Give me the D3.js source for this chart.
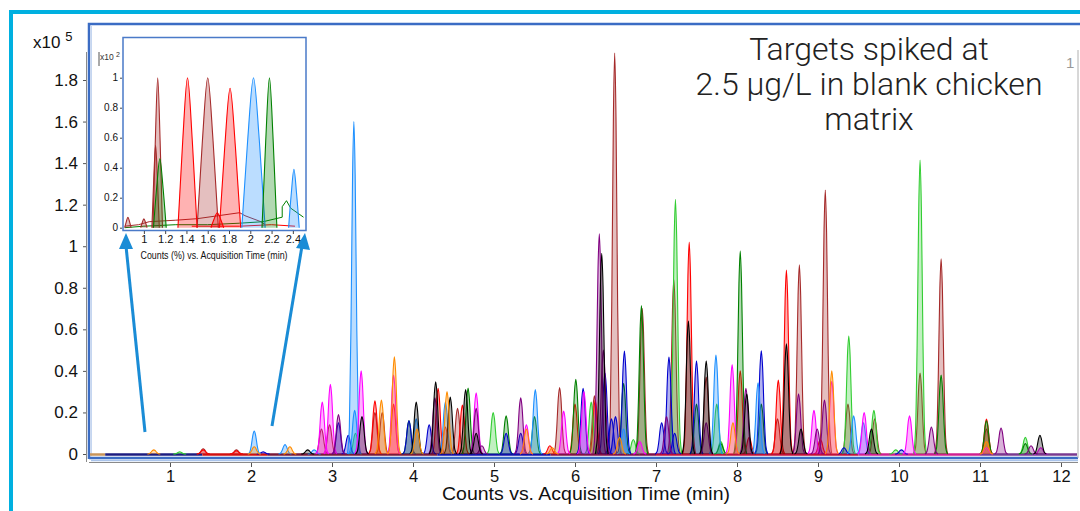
<!DOCTYPE html>
<html>
<head>
<meta charset="utf-8">
<script src="https://cdn.jsdelivr.net/npm/d3@7"></script>
<style>
  body { margin: 0; background: #fff; }
  svg { display: block; }
</style>
</head>
<body>
<div id="chart"></div>
<script>
// ---- data ----
const xTicks = [1, 2, 3, 4, 5, 6, 7, 8, 9, 10, 11, 12]
const yTicks = [0, 0.2, 0.4, 0.6, 0.8, 1, 1.2, 1.4, 1.6, 1.8]
const yTickLabels = ["0", "0.2", "0.4", "0.6", "0.8", "1", "1.2", "1.4", "1.6", "1.8"]

const insetXTicks = [1, 1.2, 1.4, 1.6, 1.8, 2, 2.2, 2.4]
const insetYTicks = [0, 0.2, 0.4, 0.6, 0.8, 1]

const titleLines = ["Targets spiked at", "2.5 µg/L in blank chicken", "matrix"]

// peaks per trace colour: [retention time (min), height (x10^5 counts)]
const brownPeaks = [[6.49, 1.93], [6.83, 0.70], [7.22, 0.84], [7.62, 0.37], [8.50, 0.17], [8.77, 0.91],
  [9.09, 1.27], [9.37, 0.24], [9.70, 0.17], [10.26, 0.39], [10.52, 0.94], [6.24, 0.28], [5.81, 0.32],
  [4.55, 0.22], [3.53, 0.20], [3.62, 0.20], [2.97, 0.14], [2.87, 0.12], [1.41, 0.025], [1.82, 0.02], [11.08, 0.12]]
const redPeaks = [[7.41, 1.02], [8.61, 0.885], [8.51, 0.356], [8.04, 0.40], [6.00, 0.24], [4.31, 0.316],
  [4.61, 0.235], [3.53, 0.256], [3.76, 0.24], [11.08, 0.168], [8.15, 0.08], [4.40, 0.13], [5.69, 0.04],
  [9.03, 0.07], [6.25, 0.26], [1.41, 0.02], [1.82, 0.015]]
const limePeaks = [[7.24, 1.226], [10.26, 1.415], [9.38, 0.568], [4.99, 0.20], [6.20, 0.25], [9.69, 0.21],
  [7.75, 0.24], [6.72, 0.07], [11.56, 0.08], [9.96, 0.02], [3.29, 0.10], [1.12, 0.01], [7.80, 0.06]]
const greenPeaks = [[8.04, 0.977], [6.82, 0.714], [6.01, 0.36], [4.68, 0.317], [5.15, 0.184], [7.50, 0.24],
  [6.60, 0.34], [8.30, 0.24], [10.52, 0.38], [5.50, 0.18], [3.95, 0.16], [11.08, 0.16], [11.56, 0.05], [7.80, 0.05]]
const bluePeaks = [[6.61, 0.496], [8.30, 0.497], [7.16, 0.467], [7.50, 0.448], [6.37, 0.39], [6.10, 0.316],
  [3.95, 0.16], [7.07, 0.15], [6.45, 0.17], [6.50, 0.18], [4.20, 0.14], [5.33, 0.10], [3.20, 0.09], [9.32, 0.03],
  [10.03, 0.02], [7.23, 0.10], [5.15, 0.10], [3.08, 0.15], [2.15, 0.01]]
const dodgerPeaks = [[3.27, 1.60], [5.51, 0.31], [7.74, 0.476], [8.26, 0.343], [9.44, 0.184], [9.56, 0.15],
  [3.28, 0.21], [4.04, 0.17], [2.04, 0.11], [2.42, 0.045], [4.40, 0.25], [6.60, 0.12], [2.78, 0.02]]
const magentaPeaks = [[3.36, 0.40], [2.98, 0.335], [2.88, 0.25], [3.76, 0.38], [4.78, 0.295], [5.86, 0.207],
  [7.94, 0.43], [8.95, 0.21], [9.17, 0.35], [9.57, 0.20], [10.13, 0.184], [5.40, 0.14], [6.11, 0.30],
  [6.80, 0.06], [11.75, 0.03], [11.08, 0.03]]
const purplePeaks = [[6.30, 1.06], [3.08, 0.19], [4.27, 0.27], [4.78, 0.22], [5.33, 0.27], [8.11, 0.316],
  [8.76, 0.29], [9.08, 0.26], [8.99, 0.12], [10.40, 0.13], [11.26, 0.125], [11.63, 0.04], [7.13, 0.18],
  [6.35, 0.50], [7.62, 0.15], [4.85, 0.04]]
const blackPeaks = [[6.33, 0.966], [7.40, 0.64], [8.61, 0.53], [7.62, 0.448], [4.28, 0.348], [4.65, 0.31],
  [4.46, 0.274], [4.04, 0.25], [8.12, 0.29], [3.37, 0.18], [4.78, 0.10], [8.79, 0.12], [9.66, 0.12],
  [11.74, 0.09], [2.70, 0.02]]
const orangePeaks = [[3.77, 0.468], [3.61, 0.26], [4.42, 0.30], [9.17, 0.40], [2.04, 0.035], [2.48, 0.035],
  [0.80, 0.02], [5.40, 0.12], [11.08, 0.06], [6.55, 0.08], [4.05, 0.12], [5.72, 0.03], [7.95, 0.15]]

const traceColors = ["#a52a2a", "#ff0000", "#32cd32", "#008000", "#0000cd", "#1e90ff",
                     "#ff00ff", "#800080", "#000000", "#ff8c00"]
const tracePeaks = [brownPeaks, redPeaks, limePeaks, greenPeaks, bluePeaks, dodgerPeaks,
                    magentaPeaks, purplePeaks, blackPeaks, orangePeaks]

// baseline colour runs [from min, to min, colour]
const baselineRuns = [[0, 0.2, "#c8955a"], [0.2, 1.4, "#1c1c80"], [1.4, 2.2, "#d01010"], [2.2, 4.3, "#7a1a3a"],
  [4.3, 5.7, "#1010a8"], [5.7, 7.0, "#80104a"], [7.0, 9.5, "#c0103a"], [9.5, 11.0, "#d02090"], [11.0, 12.2, "#7a3a90"]]

// inset (zoom of 0.8-2.5 min, counts in %): [time, height (x10^2 %), half base width (min)]
const insetBrown = [[1.13, 1.0, 0.045], [1.11, 0.55, 0.035], [1.60, 1.0, 0.1], [0.85, 0.07, 0.03], [1.0, 0.06, 0.03]]
const insetRed = [[1.41, 1.0, 0.09], [1.81, 0.93, 0.1], [1.69, 0.10, 0.06]]
const insetDodger = [[2.03, 1.0, 0.11], [2.41, 0.39, 0.05]]
const insetGreen = [[1.15, 0.46, 0.06], [2.18, 1.0, 0.07]]
const insetColors = ["#a52a2a", "#ff0000", "#1e90ff", "#008000"]
const insetPeaks = [insetBrown, insetRed, insetDodger, insetGreen]

// raw low-level signal lines in the inset
const insetBrownTrace = [[0.82, 0.01], [0.95, 0.02], [1.05, 0.04], [1.3, 0.05], [1.5, 0.06], [1.7, 0.08], [1.9, 0.1], [1.95, 0.08], [2.1, 0.04], [2.14, 0.02]]
const insetGreenTrace = [[0.82, 0.0], [1.0, 0.01], [1.3, 0.02], [1.6, 0.02], [1.9, 0.03], [2.12, 0.04], [2.3, 0.07], [2.3, 0.14], [2.34, 0.18], [2.38, 0.13], [2.5, 0.07]]
const insetRedTrace = [[1.45, 0.01], [1.9, 0.01], [2.2, 0.02], [2.42, 0.01]]
const insetTraceColors = ["#a52a2a", "#008000", "#ff0000"]
const insetTraces = [insetBrownTrace, insetGreenTrace, insetRedTrace]

// normalised peak outlines: [offset in half widths, fraction of height]
const peakProfile = [[-1, 0], [-0.7, 0.08], [-0.45, 0.38], [-0.2, 0.84], [0, 1], [0.2, 0.84], [0.45, 0.38], [0.7, 0.08], [1, 0]]
const insetProfile = [[-1, 0], [-0.5, 0.58], [0, 1], [0.5, 0.58], [1, 0]]

// ---- drawing ----
const width = 1080, height = 511
const axisFont = "'Liberation Sans', Arial, sans-serif"

const svg = d3.select("#chart").append("svg")
    .attr("width", width)
    .attr("height", height)

// outer cyan frame
svg.append("path")
    .attr("d", "M11,511 L11,12 L1080,12")
    .attr("fill", "none")
    .attr("stroke", "#00b0e0")
    .attr("stroke-width", 4)

const x = d3.scaleLinear().domain([0, 12]).range([89, 1061])
const y = d3.scaleLinear().domain([0, 1.8]).range([454, 80])

// plot frame
svg.append("path")
    .attr("d", "M89,459 L89,24 L1080,24")
    .attr("fill", "none")
    .attr("stroke", "#3b6cc4")
    .attr("stroke-width", 2.5)
svg.append("line")
    .attr("x1", 89).attr("x2", 1078).attr("y1", 458).attr("y2", 458)
    .attr("stroke", "#3b6cc4").attr("stroke-width", 2.5)
svg.append("line")
    .attr("x1", 91).attr("x2", 1078).attr("y1", 460.5).attr("y2", 460.5)
    .attr("stroke", "#a9c3ea").attr("stroke-width", 1.5)
svg.append("line")
    .attr("x1", 91.5).attr("x2", 91.5).attr("y1", 26).attr("y2", 457)
    .attr("stroke", "#c5d6f0").attr("stroke-width", 1)
svg.append("line")
    .attr("x1", 1078).attr("x2", 1078).attr("y1", 50).attr("y2", 458)
    .attr("stroke", "#b0b0b0").attr("stroke-width", 1)

svg.append("defs").append("clipPath").attr("id", "plotClip")
    .append("rect").attr("x", 90).attr("y", 26).attr("width", 987).attr("height", 432)

const plot = svg.append("g").attr("clip-path", "url(#plotClip)")

// baseline
plot.selectAll("line.base")
    .data(baselineRuns)
    .enter().append("line")
    .attr("class", "base")
    .attr("x1", d => x(d[0])).attr("x2", d => x(d[1]))
    .attr("y1", y(0) + 0.5).attr("y2", y(0) + 0.5)
    .attr("stroke", d => d[2])
    .attr("stroke-width", 2.5)

const halfWidth = 0.08

function drawPeaks(g, peaksList, colors, xs, ys, w, profile, curve, fillOpacity) {
    const area = d3.area()
        .x(d => xs(d[0])).y0(ys(0)).y1(d => ys(d[1]))
        .curve(curve)
    const line = d3.line()
        .x(d => xs(d[0])).y(d => ys(d[1]))
        .curve(curve)
    peaksList.forEach((peaks, i) => {
        const tg = g.append("g")
        const shapes = peaks.map(p => {
            const pw = p.length > 2 ? p[2] : w
            return profile.map(q => [p[0] + q[0] * pw, p[1] * q[1]])
        })
        tg.selectAll("path.fill").data(shapes).enter().append("path")
            .attr("d", area)
            .attr("fill", colors[i])
            .attr("fill-opacity", fillOpacity)
        tg.selectAll("path.edge").data(shapes).enter().append("path")
            .attr("d", line)
            .attr("fill", "none")
            .attr("stroke", colors[i])
            .attr("stroke-width", 1.1)
    })
}

drawPeaks(plot, tracePeaks, traceColors, x, y, halfWidth, peakProfile, d3.curveMonotoneX, 0.3)

// x axis
const xAxis = svg.append("g")
    .attr("transform", "translate(0,462)")
    .call(d3.axisBottom(x).tickValues(xTicks).tickSize(5).tickPadding(3).tickFormat(d3.format("d")))
xAxis.select(".domain").remove()
xAxis.selectAll("line").attr("stroke", "#555")
xAxis.selectAll("text").attr("font-family", axisFont).attr("font-size", 16.5).attr("fill", "#111")
svg.append("line")
    .attr("x1", 89).attr("x2", 1078).attr("y1", 462.5).attr("y2", 462.5)
    .attr("stroke", "#8a8a8a").attr("stroke-width", 1)

svg.append("text")
    .attr("x", 586).attr("y", 500)
    .attr("text-anchor", "middle")
    .attr("font-family", axisFont).attr("font-size", 18).attr("fill", "#111")
    .attr("textLength", 288).attr("lengthAdjust", "spacingAndGlyphs")
    .text("Counts vs. Acquisition Time (min)")

// y axis
const yAxis = svg.append("g")
    .attr("transform", "translate(87,0)")
    .call(d3.axisLeft(y).tickValues(yTicks).tickSize(4).tickPadding(5)
        .tickFormat((d, i) => yTickLabels[i]))
yAxis.select(".domain").remove()
yAxis.selectAll("line").attr("stroke", "#555")
yAxis.selectAll("text").attr("font-family", axisFont).attr("font-size", 17).attr("fill", "#111")
svg.append("line")
    .attr("x1", 86.5).attr("x2", 86.5).attr("y1", 52).attr("y2", 462)
    .attr("stroke", "#8a8a8a").attr("stroke-width", 1)

const expo = svg.append("text")
    .attr("x", 33).attr("y", 48)
    .attr("font-family", axisFont).attr("font-size", 17).attr("fill", "#111")
expo.append("tspan").text("x10 ")
expo.append("tspan").attr("dy", -7).attr("font-size", 13).text("5")

// title
svg.append("text")
    .attr("x", 869).attr("y", 60)
    .attr("text-anchor", "middle")
    .attr("font-family", "Roboto, sans-serif").attr("font-weight", 300)
    .attr("font-size", 32).attr("fill", "#222")
    .selectAll("tspan").data(titleLines).enter().append("tspan")
    .attr("x", 869).attr("dy", (d, i) => i === 0 ? 0 : 35)
    .text(d => d)

svg.append("text")
    .attr("x", 1066).attr("y", 68)
    .attr("font-family", axisFont).attr("font-size", 15).attr("fill", "#999")
    .text("1")

// ---- inset ----
const xi = d3.scaleLinear().domain([0.8, 2.5]).range([122.6, 303.5])
const yi = d3.scaleLinear().domain([0, 1]).range([227.7, 77.7])

const inset = svg.append("g")
inset.append("rect")
    .attr("x", 95).attr("y", 37).attr("width", 212).attr("height", 225)
    .attr("fill", "#fff")

inset.append("defs").append("clipPath").attr("id", "insetClip")
    .append("rect").attr("x", 123).attr("y", 38).attr("width", 183).attr("height", 192)
const insetPlot = inset.append("g").attr("clip-path", "url(#insetClip)")

const traceLine = d3.line().x(d => xi(d[0])).y(d => yi(d[1]))
insetPlot.selectAll("path.trace").data(insetTraces).enter().append("path")
    .attr("d", traceLine)
    .attr("fill", "none")
    .attr("stroke", (d, i) => insetTraceColors[i])
    .attr("stroke-width", 1)

drawPeaks(insetPlot, insetPeaks, insetColors, xi, yi, 0.05, insetProfile, d3.curveMonotoneX, 0.3)

inset.append("rect")
    .attr("x", 123).attr("y", 37.5).attr("width", 183).attr("height", 193)
    .attr("fill", "none")
    .attr("stroke", "#4a7ac8").attr("stroke-width", 1.5)

const ixAxis = inset.append("g")
    .attr("transform", "translate(0,231)")
    .call(d3.axisBottom(xi).tickValues(insetXTicks).tickSize(3).tickPadding(1).tickFormat(d3.format("~g")))
ixAxis.select(".domain").remove()
ixAxis.selectAll("line").attr("stroke", "#444")
ixAxis.selectAll("text").attr("font-family", axisFont).attr("font-size", 11).attr("fill", "#111")

const iyAxis = inset.append("g")
    .attr("transform", "translate(122,0)")
    .call(d3.axisLeft(yi).tickValues(insetYTicks).tickSize(2).tickPadding(2).tickFormat(d3.format("~g")))
iyAxis.select(".domain").remove()
iyAxis.selectAll("line").attr("stroke", "#444")
iyAxis.selectAll("text").attr("font-family", axisFont).attr("font-size", 10).attr("fill", "#111")

inset.append("text")
    .attr("x", 214).attr("y", 259)
    .attr("text-anchor", "middle")
    .attr("font-family", axisFont).attr("font-size", 11).attr("fill", "#111")
    .attr("textLength", 147).attr("lengthAdjust", "spacingAndGlyphs")
    .text("Counts (%) vs. Acquisition Time (min)")

const iexpo = inset.append("text")
    .attr("x", 100).attr("y", 60)
    .attr("font-family", axisFont).attr("font-size", 8.5).attr("fill", "#333")
iexpo.append("tspan").text("x10 ")
iexpo.append("tspan").attr("dy", -3).attr("font-size", 7).text("2")
inset.append("line")
    .attr("x1", 99).attr("x2", 99).attr("y1", 52).attr("y2", 66)
    .attr("stroke", "#555").attr("stroke-width", 1)

// arrows pointing to the zoomed window
const arrowColor = "#1a8cd6"
const arrows = [[[145, 432], [126, 246]], [[272, 426], [302, 246]]]
const arrowHeads = [[[126, 233], [119, 249], [133, 249]], [[305, 233], [296, 248], [310, 250]]]
svg.selectAll("line.arrow").data(arrows).enter().append("line")
    .attr("x1", d => d[0][0]).attr("y1", d => d[0][1])
    .attr("x2", d => d[1][0]).attr("y2", d => d[1][1])
    .attr("stroke", arrowColor).attr("stroke-width", 3)
svg.selectAll("path.head").data(arrowHeads).enter().append("path")
    .attr("d", d => "M" + d.join("L") + "Z")
    .attr("fill", arrowColor)
</script>
</body>
</html>
